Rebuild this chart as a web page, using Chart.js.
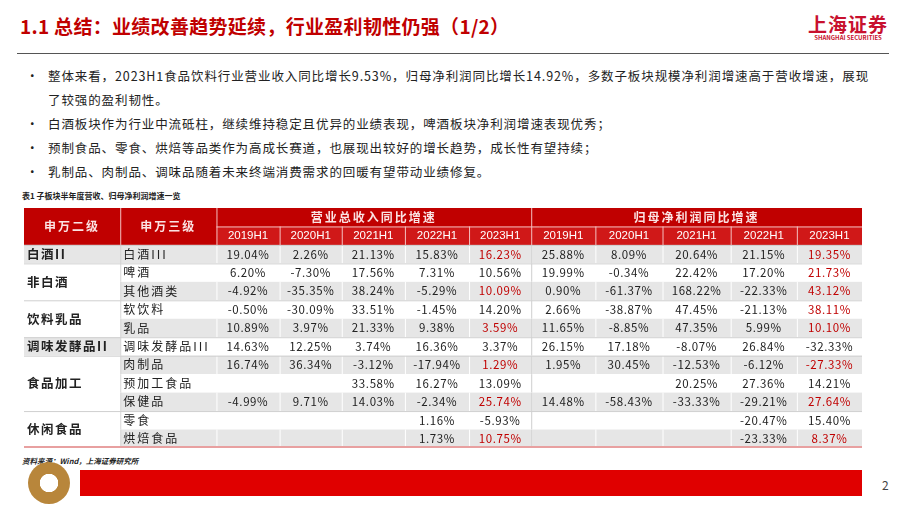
<!DOCTYPE html>
<html>
<head>
<meta charset="utf-8">
<script src="https://cdn.jsdelivr.net/npm/chart.js"></script>
<style>
  body { margin: 0; width: 920px; height: 518px; background: #fff; position: relative; overflow: hidden;
         font-family: "Noto Sans CJK SC", "Noto Sans", sans-serif; }
  .title { position: absolute; left: 20px; top: 12px; font-size: 19px; font-weight: bold; color: #c00000; letter-spacing: 0.3px; }
  .logo { position: absolute; left: 808px; top: 10px; color: #c8102e; font-size: 19px; font-weight: bold; letter-spacing: 1px; }
  .logo small { display: block; font-size: 6px; letter-spacing: 0; margin-top: -4px; text-align: center; }
  .rule { position: absolute; left: 17px; top: 53px; width: 872px; height: 1px; background: #555; }
  ul { position: absolute; left: 26px; top: 64px; margin: 0; padding: 0; list-style: none; font-size: 12.5px; color: #222; width: 862px; letter-spacing: 0.9px; }
  li { position: relative; padding-left: 22px; line-height: 24px; }
  li::before { content: "•"; position: absolute; left: 0; }
  .cap { position: absolute; left: 22px; top: 190px; font-size: 8px; font-weight: bold; color: #222; }
  .src { position: absolute; left: 22px; top: 455px; font-size: 7.5px; font-weight: bold; font-style: italic; color: #222; }
  .bar { position: absolute; left: 80px; top: 470px; width: 782px; height: 26px; background: #e00000; }
  .seal { position: absolute; left: 28px; top: 462px; width: 42px; height: 42px; border-radius: 50%;
          background: radial-gradient(circle, #fff 0 30%, #b8863b 32% 100%); }
  .pg { position: absolute; left: 882px; top: 476px; font-size: 12px; color: #444; }
  canvas { position: absolute; left: 24px; top: 208px; }
</style>
</head>
<body>
<div class="title">1.1 总结：业绩改善趋势延续，行业盈利韧性仍强（1/2）</div>
<div class="logo">上海证券<small>SHANGHAI SECURITIES</small></div>
<div class="rule"></div>
<ul>
  <li>整体来看，2023H1食品饮料行业营业收入同比增长9.53%，归母净利润同比增长14.92%，多数子板块规模净利润增速高于营收增速，展现<br>了较强的盈利韧性。</li>
  <li>白酒板块作为行业中流砥柱，继续维持稳定且优异的业绩表现，啤酒板块净利润增速表现优秀；</li>
  <li>预制食品、零食、烘焙等品类作为高成长赛道，也展现出较好的增长趋势，成长性有望持续；</li>
  <li>乳制品、肉制品、调味品随着未来终端消费需求的回暖有望带动业绩修复。</li>
</ul>
<div class="cap">表1 子板块半年度营收、归母净利润增速一览</div>
<canvas id="tbl" width="838" height="240"></canvas>
<div class="src">资料来源：Wind，上海证券研究所</div>
<div class="seal"></div>
<div class="bar"></div>
<div class="pg">2</div>
<script>
const periods = ['2019H1', '2020H1', '2021H1', '2022H1', '2023H1'];
const groups = [['白酒II', 1], ['非白酒', 2], ['饮料乳品', 2], ['调味发酵品II', 1], ['食品加工', 3], ['休闲食品', 2]];
const subs = ['白酒III', '啤酒', '其他酒类', '软饮料', '乳品', '调味发酵品III', '肉制品', '预加工食品', '保健品', '零食', '烘焙食品'];
const revenue = [
  [19.04, 2.26, 21.13, 15.83, 16.23],
  [6.20, -7.30, 17.56, 7.31, 10.56],
  [-4.92, -35.35, 38.24, -5.29, 10.09],
  [-0.50, -30.09, 33.51, -1.45, 14.20],
  [10.89, 3.97, 21.33, 9.38, 3.59],
  [14.63, 12.25, 3.74, 16.36, 3.37],
  [16.74, 36.34, -3.12, -17.94, 1.29],
  [null, null, 33.58, 16.27, 13.09],
  [-4.99, 9.71, 14.03, -2.34, 25.74],
  [null, null, null, 1.16, -5.93],
  [null, null, null, 1.73, 10.75]
];
const profit = [
  [25.88, 8.09, 20.64, 21.15, 19.35],
  [19.99, -0.34, 22.42, 17.20, 21.73],
  [0.90, -61.37, 168.22, -22.33, 43.12],
  [2.66, -38.87, 47.45, -21.13, 38.11],
  [11.65, -8.85, 47.35, 5.99, 10.10],
  [26.15, 17.18, -8.07, 26.84, -32.33],
  [1.95, 30.45, -12.53, -6.12, -27.33],
  [null, null, 20.25, 27.36, 14.21],
  [14.48, -58.43, -33.33, -29.21, 27.64],
  [null, null, null, -20.47, 15.40],
  [null, null, null, -23.33, 8.37]
];
// 2023H1 cells printed in red
const revenueRed = [1, 0, 1, 0, 1, 0, 1, 0, 1, 0, 1];
const profitRed = [1, 1, 1, 1, 1, 0, 1, 0, 1, 0, 1];

const colWidths = [96, 96, 63, 62, 63, 64, 62, 64, 67, 68, 66, 65];
const colEdges = [0];
colWidths.forEach(w => colEdges.push(colEdges[colEdges.length - 1] + w));
const nRows = subs.length + 2;

const tablePlugin = {
  id: 'table',
  afterDraw(chart) {
    const ctx = chart.ctx, xs = chart.scales.x, ys = chart.scales.y;
    const X = i => xs.getPixelForValue(colEdges[i]);
    const Y = r => ys.getPixelForValue(r);
    const fmt = v => v.toFixed(2) + '%';
    ctx.save();
    ctx.textBaseline = 'middle';
    // header
    ctx.fillStyle = '#c00000';
    ctx.fillRect(X(0), Y(0), X(12) - X(0), Y(2) - Y(0));
    ctx.fillStyle = '#d01818';
    ctx.fillRect(X(2), Y(1), X(12) - X(2), Y(2) - Y(1));
    ctx.strokeStyle = '#f4c0c0';
    ctx.lineWidth = 1;
    [1, 2, 7].forEach(i => { ctx.beginPath(); ctx.moveTo(X(i) + 0.5, Y(0)); ctx.lineTo(X(i) + 0.5, Y(2)); ctx.stroke(); });
    for (let i = 3; i < 12; i++) { if (i === 7) continue; ctx.beginPath(); ctx.moveTo(X(i) + 0.5, Y(1)); ctx.lineTo(X(i) + 0.5, Y(2)); ctx.stroke(); }
    ctx.beginPath(); ctx.moveTo(X(2), Y(1) + 0.5); ctx.lineTo(X(12), Y(1) + 0.5); ctx.stroke();
    ctx.fillStyle = '#fbe3e3';
    ctx.textAlign = 'center';
    ctx.font = 'bold 12px "Noto Sans CJK SC"';
    ctx.letterSpacing = '2px';
    ctx.fillText('申万二级', (X(0) + X(1)) / 2, Y(1));
    ctx.fillText('申万三级', (X(1) + X(2)) / 2, Y(1));
    ctx.fillText('营业总收入同比增速', (X(2) + X(7)) / 2, (Y(0) + Y(1)) / 2);
    ctx.fillText('归母净利润同比增速', (X(7) + X(12)) / 2, (Y(0) + Y(1)) / 2);
    ctx.letterSpacing = '0px';
    ctx.fillStyle = '#fff';
    ctx.font = '11.5px "Liberation Sans"';
    for (let k = 0; k < 10; k++) ctx.fillText(periods[k % 5], (X(k + 2) + X(k + 3)) / 2, (Y(1) + Y(2)) / 2);
    // body rows
    subs.forEach((s, r) => {
      const y0 = Y(r + 2), y1 = Y(r + 3), ym = (y0 + y1) / 2;
      ctx.fillStyle = r % 2 === 0 ? '#e6e6e6' : '#fff';
      ctx.fillRect(X(1), y0, X(12) - X(1), y1 - y0);
      ctx.fillStyle = '#222';
      ctx.textAlign = 'left';
      ctx.font = '12px "Noto Sans CJK SC"';
      ctx.letterSpacing = '2px';
      ctx.fillText(s, X(1) + 3, ym);
      ctx.letterSpacing = '0.6px';
      ctx.textAlign = 'center';
      ctx.font = '11.5px "Noto Sans CJK SC"';
      [revenue[r], profit[r]].forEach((vals, g) => vals.forEach((v, c) => {
        if (v === null) return;
        const red = c === 4 && (g === 0 ? revenueRed[r] : profitRed[r]);
        ctx.fillStyle = red ? '#c00000' : '#222';
        const ci = 2 + g * 5 + c;
        ctx.fillText(fmt(v), (X(ci) + X(ci + 1)) / 2, ym);
      }));
      ctx.letterSpacing = '0px';
      ctx.strokeStyle = '#fff';
      for (let i = 2; i < 12; i++) { ctx.beginPath(); ctx.moveTo(X(i) + 0.5, y0); ctx.lineTo(X(i) + 0.5, y1); ctx.stroke(); }
      ctx.strokeStyle = '#cfcfcf';
      ctx.beginPath(); ctx.moveTo(X(1) + 0.5, y0); ctx.lineTo(X(1) + 0.5, y1); ctx.stroke();
      ctx.beginPath(); ctx.moveTo(X(7) + 0.5, y0); ctx.lineTo(X(7) + 0.5, y1); ctx.stroke();
    });
    // merged first column
    let r = 2;
    groups.forEach(([name, span]) => {
      const y0 = Y(r), y1 = Y(r + span);
      ctx.fillStyle = span === 1 ? '#e6e6e6' : '#fff';
      ctx.fillRect(X(0), y0, X(1) - X(0), y1 - y0);
      ctx.fillStyle = '#222';
      ctx.textAlign = 'left';
      ctx.font = 'bold 12.5px "Noto Sans CJK SC"';
      ctx.letterSpacing = '1.5px';
      ctx.fillText(name, X(0) + 3, (y0 + y1) / 2);
      ctx.letterSpacing = '0px';
      ctx.strokeStyle = '#cfcfcf';
      ctx.beginPath(); ctx.moveTo(X(0), y0 + 0.5); ctx.lineTo(X(12), y0 + 0.5); ctx.stroke();
      r += span;
    });
    ctx.strokeStyle = '#e8a0a0';
    ctx.lineWidth = 2;
    ctx.beginPath(); ctx.moveTo(X(0), Y(nRows) - 1); ctx.lineTo(X(12), Y(nRows) - 1); ctx.stroke();
    ctx.restore();
  }
};

new Chart(document.getElementById('tbl'), {
  type: 'scatter',
  data: { datasets: [{ data: [] }] },
  options: {
    responsive: false,
    animation: false,
    layout: { padding: 0 },
    plugins: { legend: { display: false }, tooltip: { enabled: false } },
    scales: {
      x: { type: 'linear', display: false, min: 0, max: colEdges[colEdges.length - 1] },
      y: { type: 'linear', display: false, min: 0, max: nRows, reverse: true }
    }
  },
  plugins: [tablePlugin]
});
</script>
</body>
</html>
